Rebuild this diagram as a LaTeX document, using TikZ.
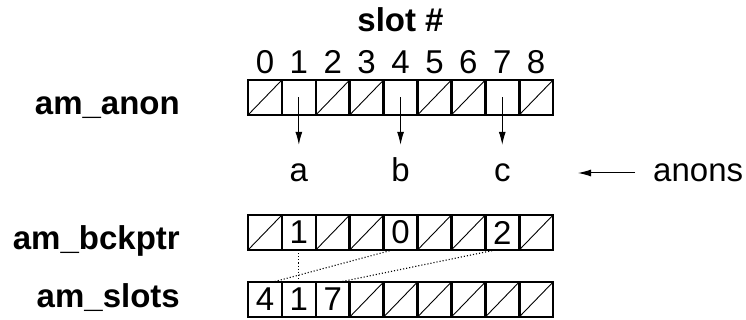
\documentclass[tikz,border=0pt]{standalone}
\usepackage{fontspec}
\setmainfont{Liberation Sans}
\usetikzlibrary{arrows.meta,calc}
\begin{document}
\begin{tikzpicture}[x=1pt,y=-1pt,
  cell/.style={draw,line width=2.6pt,minimum width=33.9pt,minimum height=35pt,inner sep=0pt,outer sep=0pt,font=\fontsize{33}{37}\selectfont},
  diag/.style={line width=0.9pt},
  txt/.style={inner sep=0pt,font=\fontsize{33}{37}\selectfont},
  lbl/.style={inner sep=0pt,font=\fontsize{33}{37}\selectfont\bfseries,anchor=base east},
  arr/.style={line width=1pt,-{Latex[length=13pt,width=7pt]}},
  dots/.style={line width=1.1pt,dotted}]
\useasboundingbox (0,0) rectangle (746,320);
% title and slot numbers
\node[txt,font=\fontsize{33}{37}\selectfont\bfseries,anchor=base] (title) at (400.5,32) {slot \#};
\foreach \i in {0,...,8} {
  \node[txt,anchor=base] (n\i) at ({248+33.9*(\i+0.5)},74) {\i};
}
% row labels
\node[lbl] (lanon) at (180,115) {am\_anon};
\node[lbl] (lbck) at (180,249) {am\_bckptr};
\node[lbl] (lslots) at (180,307) {am\_slots};
% am_anon array
\foreach \i in {0,...,8} {
  \node[cell] (a\i) at ({248+33.9*(\i+0.5)},97.5) {};
}
\foreach \i in {0,2,3,5,6,8} {
  \draw[diag] (a\i.south west) -- (a\i.north east);
}
% am_bckptr array
\foreach \i/\t in {0/,1/1,2/,3/,4/0,5/,6/,7/2,8/} {
  \node[cell] (b\i) at ({248+33.9*(\i+0.5)},232.5) {\t};
}
\foreach \i in {0,2,3,5,6,8} {
  \draw[diag] (b\i.south west) -- (b\i.north east);
}
% am_slots array
\foreach \i/\t in {0/4,1/1,2/7,3/,4/,5/,6/,7/,8/} {
  \node[cell] (s\i) at ({248+33.9*(\i+0.5)},299.5) {\t};
}
\foreach \i in {3,...,8} {
  \draw[diag] (s\i.south west) -- (s\i.north east);
}
% letters
\node[txt,anchor=base,text height=24pt,text depth=0pt] (la) at (a1.center |- 0,182) {a};
\node[txt,anchor=base,text height=24pt,text depth=0pt] (lb) at (a4.center |- 0,182) {b};
\node[txt,anchor=base,text height=24pt,text depth=0pt] (lc) at (a7.center |- 0,182) {c};
\draw[arr,shorten >=13pt] (a1.center) -- (la.north);
\draw[arr,shorten >=13pt] (a4.center) -- (lb.north);
\draw[arr,shorten >=13pt] (a7.center) -- (lc.north);
% anons
\node[txt,anchor=base west] (anons) at (653,182) {anons};
\coordinate (atip) at (578,173);
\draw[arr] ([xshift=-18pt]anons.west |- atip) -- (atip);
% dotted back pointers
\draw[dots] (b1.south) -- (s1.north);
\draw[dots] ([xshift=-8pt]b4.south) -- ([xshift=8pt]s0.north);
\draw[dots] ([xshift=-7pt]b7.south) -- ([xshift=7pt]s2.north);
\end{tikzpicture}
\end{document}
